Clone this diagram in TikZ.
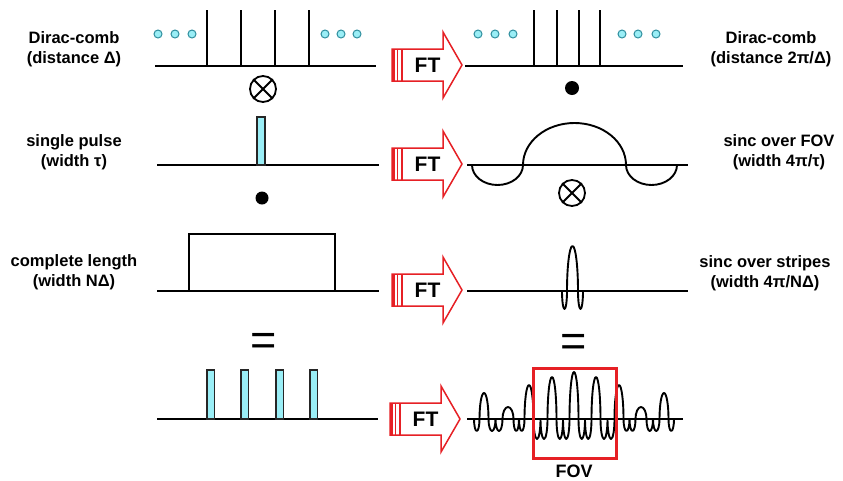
\documentclass[tikz,border=0pt]{standalone}
\usepackage{fontspec}
\setmainfont{Liberation Sans}
\definecolor{pcyan}{HTML}{9AEEF6}
\definecolor{dotedge}{HTML}{2F8E9E}
\definecolor{ftred}{HTML}{E62025}
\begin{document}
\begin{tikzpicture}[x=1pt,y=-1pt,
  base/.style={line width=1.4pt},
  comb/.style={line width=1.3pt},
  lobe/.style={line width=1.9pt, line join=round},
  pulse/.style={draw=black!85, line width=1.2pt, fill=pcyan},
  cdot/.style={circle, draw=dotedge, fill=pcyan, line width=1pt, inner sep=0pt, minimum size=8pt},
  lbl/.style={font=\fontsize{16.5}{20}\selectfont\bfseries, align=center},
  otimes/.style={circle, draw, line width=1.8pt, minimum size=26pt, inner sep=0pt},
  bdot/.style={circle, fill=black, inner sep=0pt, minimum size=14pt},
  eqsign/.style={font=\fontsize{45}{45}\selectfont, inner sep=0pt, anchor=base},
  ftarrow/.pic={
    \draw[ftred, line width=1.5pt, fill=white, line join=miter]
      (392,-16) -- (443,-16) -- (443,-33) -- (462,0) -- (443,33) -- (443,16) -- (392,16) -- cycle;
    \fill[ftred] (392,-16) rectangle (395,16);
    \draw[ftred, line width=1.1pt] (397.5,-16) -- (397.5,16);
    \draw[ftred, line width=1.3pt] (402,-16) -- (402,16);
    \node[font=\fontsize{21}{21}\selectfont\bfseries, inner sep=0pt] (-t) at (427.5,0) {FT};
  }]
\useasboundingbox (0,0) rectangle (843,480);

% ---------- labels ----------
\node[lbl] (l1) at (74,49) {Dirac-comb\\(distance Δ)};
\node[lbl] (l2) at (74,152) {single pulse\\(width τ)};
\node[lbl] (l3) at (74,272) {complete length\\(width NΔ)};
\node[lbl] (r1) at (771,49) {Dirac-comb\\(distance 2π/Δ)};
\node[lbl] (r2) at (779,152) {sinc over FOV\\(width 4π/τ)};
\node[lbl] (r3) at (765,273) {sinc over stripes\\(width 4π/NΔ)};

% ---------- FT arrows ----------
\pic (ft1) at (0,65) {ftarrow};
\pic (ft2) at (0,164) {ftarrow};
\pic (ft3) at (0,290) {ftarrow};
\pic (ft4) at (-2,419) {ftarrow};

% ---------- row 1 ----------
\draw[base] (155,66) -- (376,66);
\foreach \x in {207,241,275,309} \draw[comb] (\x,10) -- (\x,66);
\foreach \x/\n in {158/a,175/b,192/c,325/d,341/e,357/f} \node[cdot] (dl\n) at (\x,34) {};
\node[otimes] (ox1) at (263,89) {};
\draw[line width=1.8pt] (ox1.north west) -- (ox1.south east) (ox1.north east) -- (ox1.south west);

\draw[base] (465,66) -- (683,66);
\foreach \x in {534,557,579,600} \draw[comb] (\x,10) -- (\x,66);
\foreach \x/\n in {478/a,495/b,513/c,622/d,638/e,656/f} \node[cdot] (dr\n) at (\x,34) {};
\node[bdot] (bd1) at (572,88) {};

% ---------- row 2 ----------
\draw[base] (157,165) -- (379,165);
\draw[pulse] (257,117) rectangle (265,165);
\node[bdot, minimum size=13pt] (bd2) at (262,198) {};

\draw[base] (467,165) -- (688,165);
\draw[lobe] (472,165) arc[start angle=180,end angle=360,x radius=25.5pt,y radius=20pt]
                      arc[start angle=180,end angle=0,x radius=51.5pt,y radius=42pt]
                      arc[start angle=180,end angle=360,x radius=25.5pt,y radius=20pt];
\node[otimes] (ox2) at (572,193) {};
\draw[line width=1.8pt] (ox2.north west) -- (ox2.south east) (ox2.north east) -- (ox2.south west);

% ---------- row 3 ----------
\draw[base] (157,291) -- (379,291);
\draw[line width=1.5pt] (189,291) -- (189,234) -- (335,234) -- (335,291);
\node[eqsign] (eq1) at (264,355) {=};

\draw[base] (467,291) -- (688,291);
\draw[lobe] (562,291) arc[start angle=180,end angle=360,x radius=2.5pt,y radius=18pt]
                      arc[start angle=180,end angle=0,x radius=5.5pt,y radius=45pt]
                      arc[start angle=180,end angle=360,x radius=2.5pt,y radius=18pt];
\node[eqsign] (eq2) at (574,356) {=};

% ---------- row 4 ----------
\draw[base] (157,419) -- (378,419);
\foreach \x in {207,241,276,310} \draw[pulse] (\x,370) rectangle (\x+7.5,419);

\draw[base] (467,419) -- (683,419);
\draw[lobe] (474,419) \foreach \w/\h/\e in {
   2.75/12/360, 4.5/26/0, 3.5/12/360, 3.5/12/360, 5.5/12/0, 2.75/12/360, 2.75/12/360,
   4.5/34/0, 3.5/20/360, 3.5/20/360, 4.5/42/0, 3.25/20/360, 3.25/20/360,
   4.5/47/0, 3.25/20/360, 3.25/20/360, 4.5/42/0, 3.5/20/360, 3.5/20/360,
   4.5/34/0, 3/12/360, 3/12/360, 5.5/12/0, 3.25/12/360, 3.25/12/360, 4.5/26/0, 2.75/12/360}
   { arc[start angle=180,end angle=\e,x radius=\w pt,y radius=\h pt] };
\draw[ftred, line width=3pt] (533,368) rectangle (616,458);
\node[font=\fontsize{18}{18}\selectfont\bfseries, anchor=base, inner sep=0pt] (fov) at (574,477) {FOV};
\end{tikzpicture}
\end{document}
